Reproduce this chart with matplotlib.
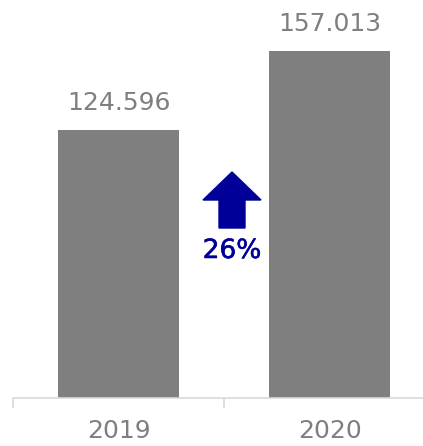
import matplotlib.pyplot as plt
import matplotlib.patheffects as pe
from matplotlib.patches import Polygon
from matplotlib.transforms import ScaledTranslation

years = ['2019', '2020']
values = [124.596, 157.013]
change_label = '26%'

grey = '#7f7f7f'
blue = '#000099'

plt.rcParams['font.family'] = ['DejaVu Sans']

fig = plt.figure(figsize=(4.23, 4.46), dpi=100)
ax = fig.add_axes([13 / 423, 48 / 446, 422 / 423, 398 / 446])

x = list(range(len(years)))
bars = ax.bar(x, values, width=0.57, color=grey)
ax.set_xlim(-0.5, 1.5)
ax.set_ylim(14.6, 177.9)

for b, v in zip(bars, values):
    ax.annotate(f'{v:.3f}', (b.get_x() + b.get_width() / 2, v),
                xytext=(0, 11), textcoords='offset points',
                ha='center', va='bottom', fontsize=18, color=grey)

for s in ['top', 'right', 'left']:
    ax.spines[s].set_visible(False)
ax.spines['bottom'].set_color('#d9d9d9')
ax.spines['bottom'].set_linewidth(1.2)
ax.set_yticks([])
ax.set_xticks(x)
ax.set_xticklabels(years, fontsize=18, color=grey)
ax.tick_params(axis='x', length=0, pad=15)
ax.set_xticks([-0.5, 0.5, 1.5], minor=True)
ax.tick_params(axis='x', which='minor', length=7, color='#d9d9d9', width=1.2)

# growth arrow between the bars
pts = [(0, 0), (0.29, -0.28), (0.13, -0.28), (0.13, -0.56),
       (-0.13, -0.56), (-0.13, -0.28), (-0.29, -0.28)]
tr = fig.dpi_scale_trans + ScaledTranslation(232 / 100, (446 - 172) / 100,
                                             fig.dpi_scale_trans)
ax.add_patch(Polygon(pts, closed=True, color=blue, transform=tr, clip_on=False))
fig.text(232 / 423, (446 - 251) / 446, change_label, ha='center', va='center',
         fontsize=19, color=blue,
         path_effects=[pe.withStroke(linewidth=0.4, foreground=blue)])

fig.savefig('out.png', dpi=100)
